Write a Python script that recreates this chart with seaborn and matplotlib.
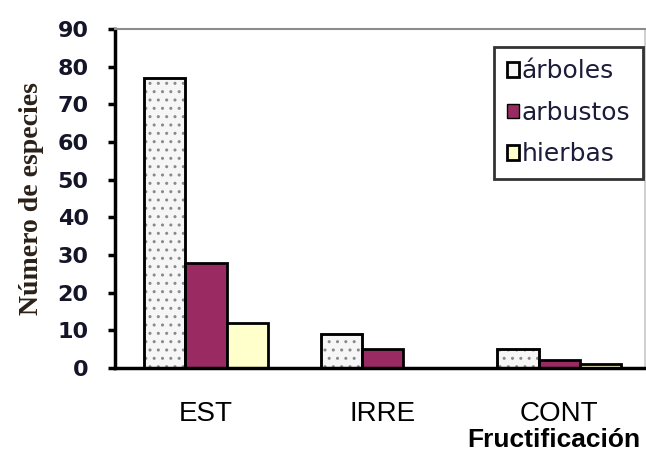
import matplotlib
matplotlib.use("Agg")
import matplotlib.pyplot as plt
from matplotlib.patches import Rectangle, Patch
import seaborn as sns
import pandas as pd

categories = ["EST", "IRRE", "CONT"]
series_names = ["árboles", "arbustos", "hierbas"]
arboles = [77, 9, 5]
arbustos = [28, 5, 2]
hierbas = [12, 0, 1]
y_ticks = [0, 10, 20, 30, 40, 50, 60, 70, 80, 90]
colors = ["#f6f6f6", "#9a2b62", "#ffffcc"]

df = pd.DataFrame({
    "Fructificación": categories * 3,
    "tipo": [series_names[0]] * 3 + [series_names[1]] * 3 + [series_names[2]] * 3,
    "n": arboles + arbustos + hierbas,
})

sns.set_style("white")
plt.rcParams["hatch.linewidth"] = 1.0

fig = plt.figure(figsize=(6.46, 4.59), dpi=100)
ax = fig.add_axes([115 / 646, 1 - 368 / 459, 530 / 646, 339 / 459])

sns.barplot(data=df, x="Fructificación", y="n", hue="tipo", order=categories,
            hue_order=series_names, palette=colors, saturation=1, width=0.7,
            edgecolor="black", linewidth=2, legend=False, ax=ax)

# dotted texture for árboles
for bar in ax.containers[0]:
    bar.set_hatch("..")
    bar.set_edgecolor("#8a8a8a")
    ax.add_patch(Rectangle((bar.get_x(), bar.get_y()), bar.get_width(), bar.get_height(),
                           fill=False, edgecolor="black", linewidth=2, zorder=3))

ax.set_xlim(-0.515, 2.485)
ax.set_ylim(0, 90)
ax.set_yticks(y_ticks)
ax.set_yticklabels([str(v) for v in y_ticks], fontfamily="DejaVu Sans",
                   fontweight="bold", fontsize=16, color="#15152a")
ax.set_xticks(range(len(categories)))
ax.set_xticklabels(categories, fontfamily="Liberation Sans", fontsize=20, color="black")
ax.set_xticks([0.5, 1.5], minor=True)
ax.tick_params(axis="x", which="major", length=0, pad=24)
ax.tick_params(axis="x", which="minor", direction="out", length=4, width=2.5, color="black")
ax.tick_params(axis="y", direction="out", length=5, width=2.5, color="black", pad=14, left=True)

ax.set_xlabel("")
ax.set_ylabel("Número de especies", fontfamily="Liberation Serif", fontweight="bold",
              fontsize=20, color="#2b2118", labelpad=10)

for side in ["left", "bottom"]:
    ax.spines[side].set_color("black")
    ax.spines[side].set_linewidth(2.5)
ax.spines["top"].set_color("#8c8c8c")
ax.spines["top"].set_linewidth(1.5)
ax.spines["right"].set_color("#c8c8c8")
ax.spines["right"].set_linewidth(1.2)

handles = [Patch(facecolor=colors[0], edgecolor="black", linewidth=2),
           Patch(facecolor=colors[1], edgecolor="black", linewidth=1),
           Patch(facecolor=colors[2], edgecolor="black", linewidth=2)]
leg = ax.legend(handles, series_names, loc="upper right", bbox_to_anchor=(0.996, 0.947),
                borderaxespad=0, frameon=True, fancybox=False, handlelength=0.5,
                handleheight=0.5, handletextpad=0.1, labelspacing=0.7, borderpad=0.5,
                prop={"family": "DejaVu Sans", "size": 18})
leg.get_frame().set_edgecolor("black")
leg.get_frame().set_linewidth(2)
for t in leg.get_texts():
    t.set_color("#1c1c3a")

fig.text(554 / 646, 1 - 440 / 459, "Fructificación", ha="center", va="center",
         fontfamily="Liberation Sans", fontweight="bold", fontsize=19, color="black")

fig.savefig("out.png", dpi=100)
